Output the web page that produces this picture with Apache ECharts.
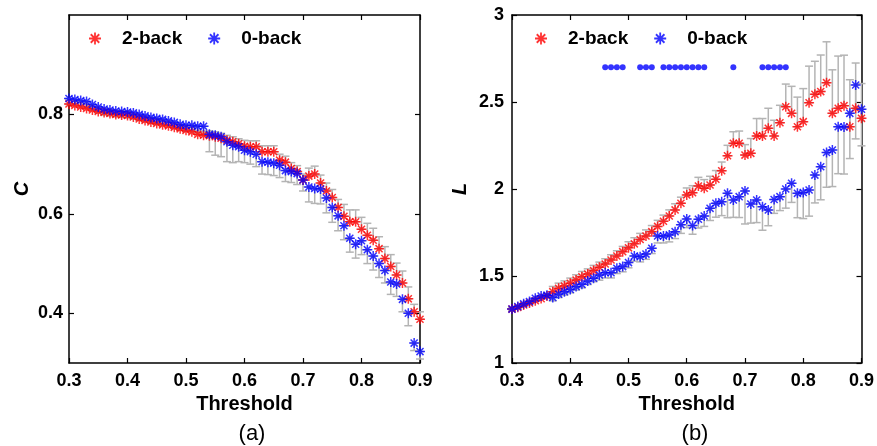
<!DOCTYPE html>
<html>
<head>
<meta charset="utf-8">
<script src="https://cdn.jsdelivr.net/npm/echarts@6/dist/echarts.min.js"></script>
<style>
  html, body { margin: 0; padding: 0; background: #fff; }
  #chart { width: 877px; height: 446px; }
</style>
</head>
<body>
<div id="chart"></div>
<script>
// thresholds shared by both panels
const thresholds = [0.30, 0.31, 0.32, 0.33, 0.34, 0.35, 0.36, 0.37, 0.38, 0.39,
    0.40, 0.41, 0.42, 0.43, 0.44, 0.45, 0.46, 0.47, 0.48, 0.49,
    0.50, 0.51, 0.52, 0.53, 0.54, 0.55, 0.56, 0.57, 0.58, 0.59,
    0.60, 0.61, 0.62, 0.63, 0.64, 0.65, 0.66, 0.67, 0.68, 0.69,
    0.70, 0.71, 0.72, 0.73, 0.74, 0.75, 0.76, 0.77, 0.78, 0.79,
    0.80, 0.81, 0.82, 0.83, 0.84, 0.85, 0.86, 0.87, 0.88, 0.89, 0.90];

// (a) clustering coefficient C
const cTwoBack = [0.821, 0.818, 0.815, 0.812, 0.809, 0.806, 0.804, 0.802, 0.800, 0.799,
    0.798, 0.795, 0.791, 0.788, 0.785, 0.782, 0.779, 0.777, 0.774, 0.771,
    0.768, 0.765, 0.760, 0.758, 0.757, 0.755, 0.752, 0.748, 0.745, 0.741,
    0.736, 0.735, 0.735, 0.725, 0.725, 0.725, 0.708, 0.704, 0.691, 0.685,
    0.668, 0.676, 0.680, 0.662, 0.646, 0.633, 0.613, 0.595, 0.584, 0.584,
    0.569, 0.557, 0.547, 0.530, 0.510, 0.494, 0.477, 0.461, 0.429, 0.403, 0.388];
const cZeroBack = [0.832, 0.830, 0.828, 0.826, 0.820, 0.815, 0.811, 0.809, 0.807, 0.806,
    0.805, 0.803, 0.800, 0.797, 0.794, 0.792, 0.790, 0.787, 0.784, 0.780,
    0.778, 0.778, 0.776, 0.776, 0.760, 0.758, 0.755, 0.745, 0.738, 0.735,
    0.728, 0.725, 0.720, 0.705, 0.704, 0.702, 0.698, 0.687, 0.685, 0.681,
    0.668, 0.654, 0.651, 0.650, 0.632, 0.613, 0.596, 0.576, 0.551, 0.539,
    0.546, 0.528, 0.515, 0.500, 0.486, 0.463, 0.459, 0.428, 0.400, 0.340, 0.323];
const cTwoBackErr = [0.008, 0.008, 0.008, 0.008, 0.008, 0.008, 0.008, 0.008, 0.008, 0.008,
    0.008, 0.008, 0.008, 0.008, 0.008, 0.008, 0.008, 0.008, 0.008, 0.008,
    0.008, 0.008, 0.008, 0.008, 0.010, 0.010, 0.010, 0.010, 0.010, 0.010,
    0.012, 0.012, 0.012, 0.012, 0.012, 0.012, 0.012, 0.012, 0.012, 0.012,
    0.012, 0.016, 0.016, 0.016, 0.016, 0.016, 0.016, 0.024, 0.024, 0.024,
    0.024, 0.024, 0.024, 0.024, 0.024, 0.024, 0.024, 0.024, 0.024, 0.015, 0.015];
const cZeroBackErr = [0.012, 0.012, 0.012, 0.012, 0.012, 0.012, 0.012, 0.012, 0.012, 0.012,
    0.012, 0.012, 0.012, 0.012, 0.012, 0.012, 0.012, 0.012, 0.012, 0.012,
    0.012, 0.012, 0.012, 0.012, 0.035, 0.040, 0.040, 0.040, 0.035, 0.030,
    0.025, 0.025, 0.025, 0.025, 0.025, 0.025, 0.025, 0.022, 0.022, 0.022,
    0.022, 0.030, 0.030, 0.030, 0.030, 0.030, 0.030, 0.028, 0.028, 0.028,
    0.028, 0.028, 0.028, 0.028, 0.025, 0.025, 0.025, 0.025, 0.025, 0.015, 0.015];

// (b) path length L
const lTwoBack = [1.310, 1.320, 1.333, 1.345, 1.358, 1.370, 1.385, 1.410, 1.429, 1.442,
    1.458, 1.477, 1.496, 1.511, 1.531, 1.550, 1.569, 1.592, 1.615, 1.640,
    1.662, 1.685, 1.710, 1.730, 1.755, 1.785, 1.815, 1.845, 1.880, 1.918,
    1.966, 1.979, 2.017, 2.004, 2.023, 2.056, 2.105, 2.191, 2.263, 2.263,
    2.195, 2.205, 2.305, 2.305, 2.349, 2.305, 2.381, 2.473, 2.435, 2.358,
    2.387, 2.496, 2.544, 2.560, 2.611, 2.435, 2.464, 2.479, 2.358, 2.464, 2.406];
const lZeroBack = [1.310, 1.324, 1.340, 1.353, 1.372, 1.385, 1.390, 1.377, 1.396, 1.410,
    1.423, 1.439, 1.452, 1.471, 1.487, 1.506, 1.519, 1.519, 1.544, 1.554,
    1.577, 1.615, 1.611, 1.626, 1.659, 1.730, 1.730, 1.736, 1.755, 1.795,
    1.828, 1.790, 1.826, 1.845, 1.889, 1.918, 1.927, 1.975, 1.937, 1.956,
    1.989, 1.914, 1.937, 1.898, 1.879, 1.940, 1.956, 2.000, 2.033, 1.975,
    1.980, 1.994, 2.080, 2.128, 2.210, 2.224, 2.358, 2.356, 2.435, 2.598, 2.458];
const lTwoBackErr = [0.01, 0.01, 0.01, 0.01, 0.01, 0.01, 0.01, 0.03, 0.03, 0.03,
    0.03, 0.03, 0.03, 0.03, 0.03, 0.03, 0.03, 0.03, 0.03, 0.03,
    0.035, 0.035, 0.035, 0.035, 0.035, 0.035, 0.035, 0.035, 0.035, 0.035,
    0.04, 0.04, 0.05, 0.05, 0.05, 0.05, 0.05, 0.06, 0.066, 0.07,
    0.06, 0.085, 0.10, 0.10, 0.115, 0.09, 0.10, 0.13, 0.155, 0.17,
    0.19, 0.21, 0.19, 0.21, 0.235, 0.25, 0.30, 0.29, 0.27, 0.26, 0.20];
const lZeroBackErr = [0.01, 0.01, 0.01, 0.01, 0.01, 0.01, 0.01, 0.02, 0.02, 0.02,
    0.02, 0.02, 0.02, 0.02, 0.02, 0.03, 0.03, 0.03, 0.03, 0.03,
    0.03, 0.03, 0.03, 0.03, 0.03, 0.04, 0.04, 0.04, 0.04, 0.05,
    0.05, 0.05, 0.05, 0.06, 0.07, 0.08, 0.08, 0.14, 0.10, 0.12,
    0.19, 0.11, 0.13, 0.135, 0.09, 0.08, 0.08, 0.11, 0.11, 0.14,
    0.15, 0.15, 0.16, 0.19, 0.20, 0.21, 0.27, 0.27, 0.26, 0.31, 0.21];

// thresholds with a significant difference (dots in panel b)
const sigThresholds = [0.46, 0.47, 0.48, 0.49, 0.52, 0.53, 0.54,
    0.56, 0.57, 0.58, 0.59, 0.60, 0.61, 0.62, 0.63, 0.68,
    0.73, 0.74, 0.75, 0.76, 0.77];
const sigLevel = 2.7;

const cTicks = [0.4, 0.6, 0.8];

const RED = '#ff0000', BLUE = '#0000ff', GREY = '#b4b4b4';
const FONT = 'Liberation Sans, Arial, sans-serif';
// asterisk marker: four crossed bars
const STAR = 'path://M8.5 0L11.5 0L11.5 20L8.5 20Z M0 8.5L20 8.5L20 11.5L0 11.5Z ' +
    'M3.99 1.87L18.13 16.01L16.01 18.13L1.87 3.99Z M16.01 1.87L18.13 3.99L3.99 18.13L1.87 16.01Z';

const pts = (ys) => thresholds.map((t, i) => [t, ys[i]]);
const errPts = (ys, es) => thresholds.map((t, i) => [t, ys[i], es[i]]);

function errRender(dir) {
    return function (params, api) {
        const t = api.value(0), v = api.value(1), e = api.value(2);
        const p0 = api.coord([t, v]);
        const p1 = api.coord([t, v + dir * e]);
        const w = 4;
        const st = {stroke: GREY, lineWidth: 1.5};
        return {
            type: 'group',
            children: [
                {type: 'line', shape: {x1: p0[0], y1: p0[1], x2: p1[0], y2: p1[1]}, style: st},
                {type: 'line', shape: {x1: p1[0] - w, y1: p1[1], x2: p1[0] + w, y2: p1[1]}, style: st},
                {type: 'line', shape: {x1: p0[0] - w, y1: p0[1], x2: p0[0] + w, y2: p0[1]}, style: st}
            ]
        };
    };
}

const lbl = {fontFamily: FONT, fontWeight: 'bold', fontSize: 18, color: '#000'};
const line = {show: true, lineStyle: {color: '#000', width: 1.5}};
const tick = {show: true, inside: true, length: 5, lineStyle: {color: '#000', width: 1.2}};

function xAx(grid, pos) {
    const bottom = pos === 'bottom';
    return {
        type: 'value', gridIndex: grid, position: pos, min: 0.3, max: 0.9, interval: 0.1,
        axisLine: line, axisTick: tick, splitLine: {show: false},
        axisLabel: bottom ? Object.assign({margin: 9, formatter: v => v.toFixed(1)}, lbl) : {show: false},
        name: bottom ? 'Threshold' : '', nameLocation: 'middle', nameGap: 30,
        nameTextStyle: {fontFamily: FONT, fontWeight: 'bold', fontSize: 20, color: '#000'}
    };
}

const option = {
    animation: false,
    backgroundColor: '#fff',
    title: [
        {text: '(a)', left: 247, top: 418, textAlign: 'center',
            textStyle: {fontFamily: FONT, fontWeight: 'normal', fontSize: 22, color: '#000'}},
        {text: '(b)', left: 690, top: 418, textAlign: 'center',
            textStyle: {fontFamily: FONT, fontWeight: 'normal', fontSize: 22, color: '#000'}}
    ],
    legend: [
        {left: 84, top: 24, icon: STAR, itemWidth: 12, itemHeight: 12, itemGap: 26,
            data: ['2-back', '0-back'],
            textStyle: {fontFamily: FONT, fontWeight: 'bold', fontSize: 19, color: '#000', padding: [0, 0, 0, 16]}},
        {left: 530, top: 24, icon: STAR, itemWidth: 12, itemHeight: 12, itemGap: 26,
            data: ['2-back', '0-back'],
            textStyle: {fontFamily: FONT, fontWeight: 'bold', fontSize: 19, color: '#000', padding: [0, 0, 0, 16]}}
    ],
    grid: [
        {left: 69, top: 15, width: 351, height: 348},
        {left: 512, top: 15, width: 351, height: 348}
    ],
    xAxis: [xAx(0, 'bottom'), xAx(0, 'top'), xAx(1, 'bottom'), xAx(1, 'top')],
    yAxis: [
        {type: 'value', gridIndex: 0, position: 'left', min: 0.3, max: 1.0,
            axisLine: line, splitLine: {show: false},
            axisTick: Object.assign({customValues: cTicks}, tick),
            axisLabel: Object.assign({customValues: cTicks, margin: 6, formatter: v => v.toFixed(1)}, lbl),
            name: 'C', nameLocation: 'middle', nameGap: 37, nameRotate: 90,
            nameTextStyle: {fontFamily: FONT, fontWeight: 'bold', fontStyle: 'italic', fontSize: 20, color: '#000'}},
        {type: 'value', gridIndex: 0, position: 'right', min: 0.3, max: 1.0,
            axisLine: line, splitLine: {show: false},
            axisTick: Object.assign({customValues: cTicks}, tick), axisLabel: {show: false}},
        {type: 'value', gridIndex: 1, position: 'left', min: 1, max: 3, interval: 0.5,
            axisLine: line, splitLine: {show: false}, axisTick: tick,
            axisLabel: Object.assign({margin: 8}, lbl),
            name: 'L', nameLocation: 'middle', nameGap: 42, nameRotate: 90,
            nameTextStyle: {fontFamily: FONT, fontWeight: 'bold', fontStyle: 'italic', fontSize: 20, color: '#000'}},
        {type: 'value', gridIndex: 1, position: 'right', min: 1, max: 3, interval: 0.5,
            axisLine: line, splitLine: {show: false}, axisTick: tick, axisLabel: {show: false}}
    ],
    series: [
        {type: 'custom', xAxisIndex: 0, yAxisIndex: 0, renderItem: errRender(1), z: 1,
            encode: {x: 0, y: 1}, data: errPts(cTwoBack, cTwoBackErr)},
        {type: 'custom', xAxisIndex: 0, yAxisIndex: 0, renderItem: errRender(-1), z: 1,
            encode: {x: 0, y: 1}, data: errPts(cZeroBack, cZeroBackErr)},
        {type: 'custom', xAxisIndex: 2, yAxisIndex: 2, renderItem: errRender(1), z: 1,
            encode: {x: 0, y: 1}, data: errPts(lTwoBack, lTwoBackErr)},
        {type: 'custom', xAxisIndex: 2, yAxisIndex: 2, renderItem: errRender(-1), z: 1,
            encode: {x: 0, y: 1}, data: errPts(lZeroBack, lZeroBackErr)},
        {name: '2-back', type: 'scatter', xAxisIndex: 0, yAxisIndex: 0, symbol: STAR, symbolSize: 10,
            itemStyle: {color: RED}, z: 3, data: pts(cTwoBack)},
        {name: '0-back', type: 'scatter', xAxisIndex: 0, yAxisIndex: 0, symbol: STAR, symbolSize: 10,
            itemStyle: {color: BLUE}, z: 4, data: pts(cZeroBack)},
        {name: '2-back', type: 'scatter', xAxisIndex: 2, yAxisIndex: 2, symbol: STAR, symbolSize: 10,
            itemStyle: {color: RED}, z: 3, data: pts(lTwoBack)},
        {name: '0-back', type: 'scatter', xAxisIndex: 2, yAxisIndex: 2, symbol: STAR, symbolSize: 10,
            itemStyle: {color: BLUE}, z: 4, data: pts(lZeroBack)},
        {name: 'sig', type: 'scatter', xAxisIndex: 2, yAxisIndex: 2, symbol: 'circle', symbolSize: 6,
            itemStyle: {color: BLUE}, z: 4, data: sigThresholds.map(t => [t, sigLevel])}
    ]
};

const chart = echarts.init(document.getElementById('chart'), null, {renderer: 'canvas'});
chart.setOption(option);
</script>
</body>
</html>
